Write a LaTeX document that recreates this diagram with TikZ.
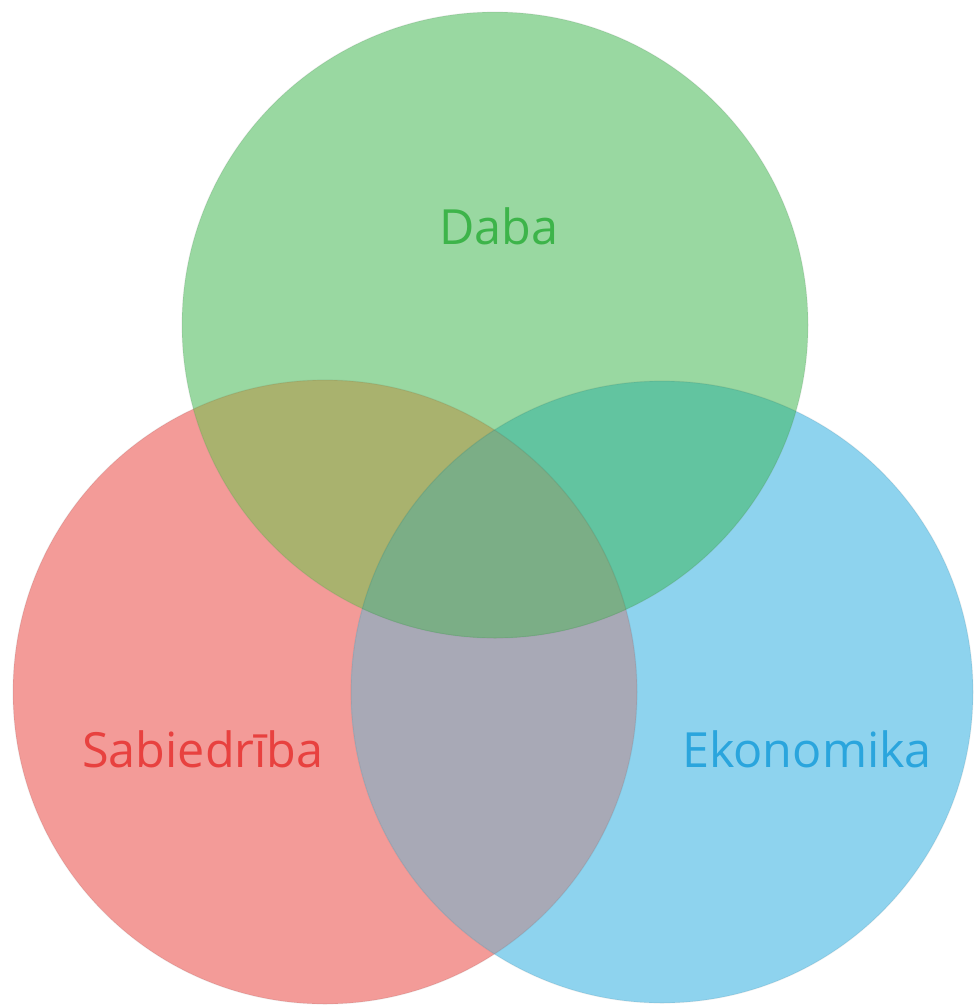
\documentclass[tikz,border=0pt]{standalone}
\usepackage{fontspec}
\setmainfont{Open Sans}
\definecolor{cR}{HTML}{F39B98}
\definecolor{cB}{HTML}{8ED3EE}
\definecolor{cG}{HTML}{99D8A1}
\definecolor{cRG}{HTML}{A9B26E}
\definecolor{cBG}{HTML}{62C4A0}
\definecolor{cRB}{HTML}{A8A9B6}
\definecolor{cRGB}{HTML}{7BAE86}
\definecolor{tR}{HTML}{E8413F}
\definecolor{tB}{HTML}{2AA5DD}
\definecolor{tG}{HTML}{3DB44A}
\tikzset{lbl/.style={font=\fontsize{48.5}{52}\selectfont, inner sep=0pt, anchor=base}}
\begin{document}
\begin{tikzpicture}[x=1pt,y=-1pt]
\useasboundingbox (0,0) rectangle (974,1007);
\def\Rc{(325,692) circle [radius=312]}
\def\Bc{(662,692) circle [radius=311]}
\def\Gc{(495,325) circle [radius=313]}
\fill[cR] \Rc;
\fill[cB] \Bc;
\fill[cG] \Gc;
\begin{scope}\clip \Rc; \fill[cRB] \Bc; \end{scope}
\begin{scope}\clip \Rc; \fill[cRG] \Gc; \end{scope}
\begin{scope}\clip \Bc; \fill[cBG] \Gc; \end{scope}
\begin{scope}\clip \Rc; \clip \Bc; \fill[cRGB] \Gc; \end{scope}
\draw[black, opacity=0.06, line width=1.2pt] \Rc;
\draw[black, opacity=0.06, line width=1.2pt] \Bc;
\draw[black, opacity=0.06, line width=1.2pt] \Gc;
\node[lbl, text=tG] (daba) at (499,244) {Daba};
\node[lbl, text=tR] (sab) at (203,767) {Sabiedrība};
\node[lbl, text=tB] (eko) at (807,767) {Ekonomika};
\end{tikzpicture}
\end{document}
